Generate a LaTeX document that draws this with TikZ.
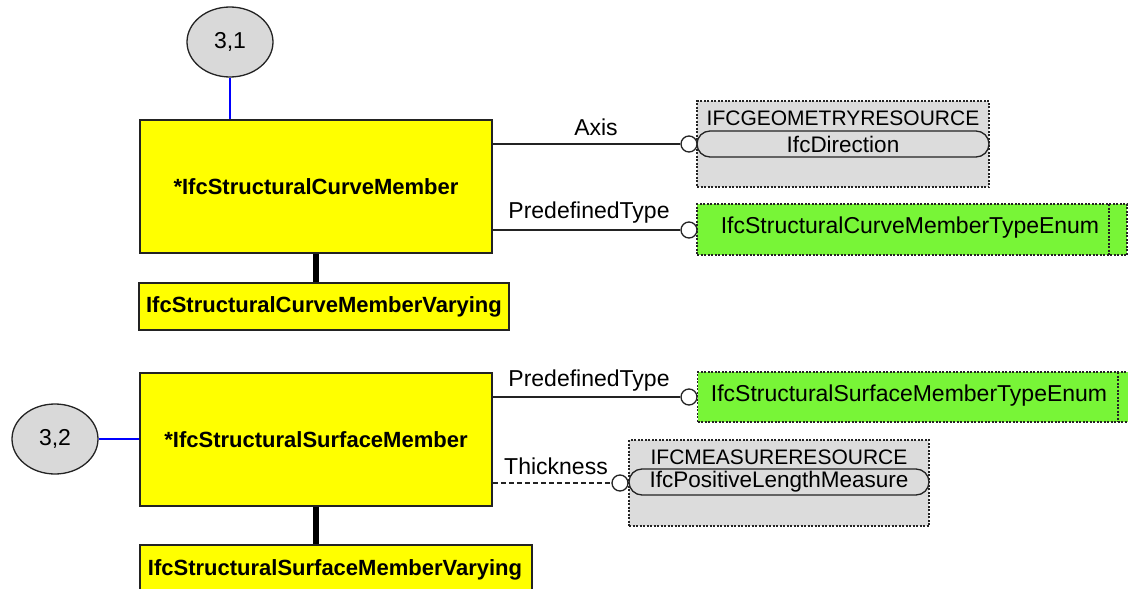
\documentclass[tikz,border=0pt]{standalone}
\usepackage{fontspec}
\setmainfont{Liberation Sans}
\usetikzlibrary{shapes.geometric}
\definecolor{ybox}{RGB}{255,255,0}
\definecolor{gbox}{RGB}{220,220,220}
\definecolor{grn}{RGB}{120,245,55}
\definecolor{ell}{RGB}{217,217,217}
\definecolor{edge}{RGB}{35,35,35}
\tikzset{
  entity/.style={draw=edge, line width=1.8pt, fill=ybox, inner sep=0pt, font=\fontsize{22}{26}\selectfont\bfseries},
  pageref/.style={ellipse, draw=edge, line width=1.3pt, fill=ell, minimum width=86pt, minimum height=70pt, inner sep=0pt, font=\fontsize{23}{26}\selectfont},
  schema/.style={draw=edge, line width=1.1pt, dash pattern=on 2pt off 1.5pt, fill=gbox, inner sep=0pt},
  enumbox/.style={draw=edge, line width=1.1pt, dash pattern=on 2pt off 1.5pt, fill=grn, inner sep=0pt},
  pill/.style={draw=edge, line width=1.3pt, fill=gbox, rounded corners=13pt, minimum height=26pt, inner sep=0pt, font=\fontsize{22.5}{26}\selectfont},
  lbl/.style={font=\fontsize{23}{26}\selectfont, inner sep=0pt},
  caps/.style={font=\fontsize{21}{26}\selectfont, inner sep=0pt},
  knob/.style={circle, draw=edge, line width=1.3pt, fill=white, minimum size=16pt, inner sep=0pt},
  rel/.style={draw=edge, line width=1.5pt},
  link/.style={draw=blue, line width=1.2pt},
  sub/.style={draw=black, line width=6pt}
}
\begin{document}
\begin{tikzpicture}[x=1pt, y=-1pt]
\useasboundingbox (0,0) rectangle (1128,589);
\clip (0,0) rectangle (1128,589);
% entities
\node[entity, minimum width=352pt, minimum height=133pt] (scm) at (316,186.5) {*IfcStructuralCurveMember};
\node[entity, minimum width=370pt, minimum height=47pt] (scmv) at (324,306.5) {IfcStructuralCurveMemberVarying};
\node[entity, minimum width=352pt, minimum height=133pt] (ssm) at (316,439.5) {*IfcStructuralSurfaceMember};
\node[entity, minimum width=392pt, minimum height=56pt, anchor=north west] (ssmv) at (139,544) {};
\node[font=\fontsize{22}{26}\selectfont\bfseries] (ssmvt) at (335,570) {IfcStructuralSurfaceMemberVarying};
% page refs
\node[pageref] (p31) at (230,42) {3,1};
\node[pageref] (p32) at (55,439) {3,2};
\draw[link] (p31) -- (scm.north -| p31);
\draw[link] (p32) -- (ssm.west |- p32);
% subtypes
\draw[sub] (scm.south -| 316,0) -- (scmv.north -| 316,0);
\draw[sub] (ssm.south -| 316,0) -- (ssmv.north -| 316,0);
% schema box 1
\node[schema, minimum width=292pt, minimum height=86pt] (geo) at (843,144) {};
\node[caps] (geot) at (843,118) {IFCGEOMETRYRESOURCE};
\node[pill, minimum width=292pt] (dir) at (843,144) {IfcDirection};
% enum box 1
\node[enumbox, minimum width=430pt, minimum height=51pt] (cenum) at (912,229.5) {};
\node[lbl] (cenumt) at (910,228) {IfcStructuralCurveMemberTypeEnum};
\draw[edge, line width=1.1pt, dash pattern=on 2pt off 1.5pt] (1109,204) -- (1109,255);
% enum box 2
\node[enumbox, minimum width=443pt, minimum height=50pt, anchor=west] (senum) at (697,397) {};
\node[lbl] (senumt) at (909,396) {IfcStructuralSurfaceMemberTypeEnum};
\draw[edge, line width=1.1pt, dash pattern=on 2pt off 1.5pt] (1118,372) -- (1118,422);
% schema box 2
\node[schema, minimum width=300pt, minimum height=86pt] (mea) at (779,483) {};
\node[caps] (meat) at (779,457) {IFCMEASURERESOURCE};
\node[pill, minimum width=300pt] (plm) at (779,482) {IfcPositiveLengthMeasure};
% connectors
\node[knob] (k1) at (689,144) {};
\node[knob] (k2) at (689,230) {};
\node[knob] (k3) at (689,397) {};
\node[knob] (k4) at (620,483) {};
\draw[rel] (scm.east |- k1) -- (k1.west);
\draw[rel] (scm.east |- k2) -- (k2.west);
\draw[rel] (ssm.east |- k3) -- (k3.west);
\draw[rel, dash pattern=on 5pt off 3pt] (ssm.east |- k4) -- (k4.west);
\node[lbl] (la) at (596,127) {Axis};
\node[lbl] (lp1) at (589,213) {PredefinedType};
\node[lbl] (lp2) at (589,381) {PredefinedType};
\node[lbl] (lt) at (556,466) {Thickness};
\end{tikzpicture}
\end{document}
